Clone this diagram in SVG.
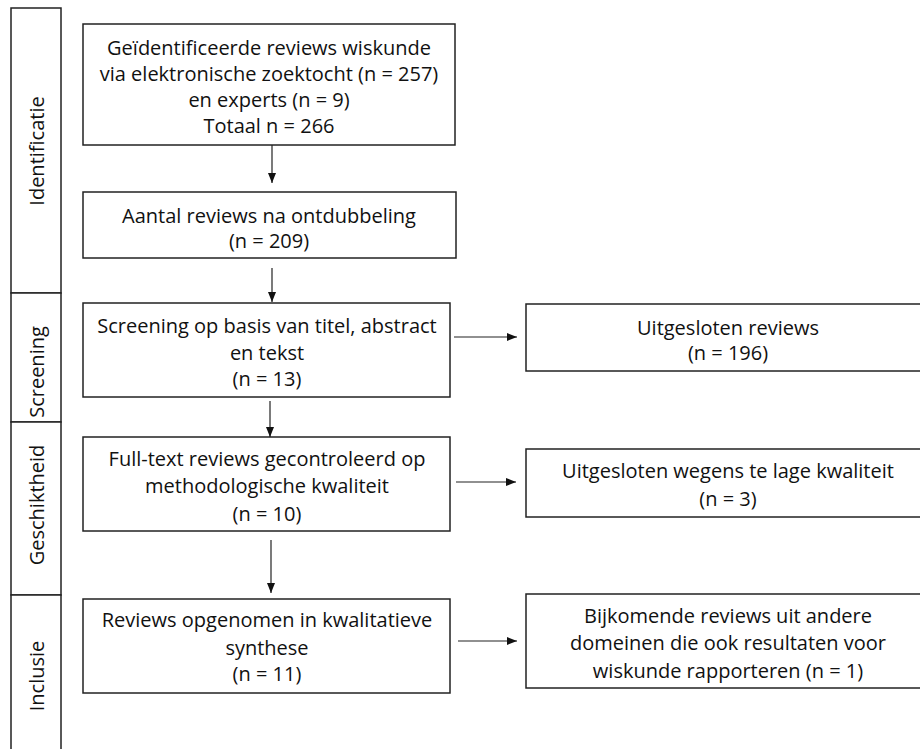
<svg xmlns="http://www.w3.org/2000/svg" width="920" height="749" viewBox="0 0 920 749">
<style>
.box{fill:#fff;stroke:#222;stroke-width:1.5}
.ph{fill:#fff;stroke:#222;stroke-width:1.5}
.t{font-family:"Open Sans","Liberation Sans",sans-serif;font-size:20px;fill:#111;text-anchor:middle;dominant-baseline:central}
.c{stroke:#222;stroke-width:1.2;fill:none;marker-end:url(#ah)}
</style>
<defs>
<marker id="ah" viewBox="0 0 10 10" refX="10" refY="5" markerWidth="10" markerHeight="10" markerUnits="userSpaceOnUse" orient="auto">
<path d="M0,1 L10,5 L0,9 Z" fill="#111"/>
</marker>
</defs>
<rect width="920" height="749" fill="#fff"/>
<g id="phases">
<g id="phase-identificatie"><rect class="ph" x="11" y="8" width="50" height="285"/><text class="t" transform="translate(36,151) rotate(-90)">Identificatie</text></g>
<g id="phase-screening"><rect class="ph" x="11" y="293" width="50" height="129"/><text class="t" transform="translate(36,372) rotate(-90)">Screening</text></g>
<g id="phase-geschiktheid"><rect class="ph" x="11" y="422" width="50" height="173"/><text class="t" transform="translate(36,505) rotate(-90)">Geschiktheid</text></g>
<g id="phase-inclusie"><rect class="ph" x="11" y="595" width="50" height="160"/><text class="t" transform="translate(36,676) rotate(-90)">Inclusie</text></g>
</g>
<g id="n1"><rect class="box" x="83" y="24" width="372" height="121"/>
<text class="t" x="269" y="47">Geïdentificeerde reviews wiskunde</text>
<text class="t" x="269" y="73">via elektronische zoektocht (n = 257)</text>
<text class="t" x="269" y="99">en experts (n = 9)</text>
<text class="t" x="269" y="125">Totaal n = 266</text></g>
<g id="n2"><rect class="box" x="83" y="192" width="373" height="66"/>
<text class="t" x="269" y="215">Aantal reviews na ontdubbeling</text>
<text class="t" x="269" y="240">(n = 209)</text></g>
<g id="n3"><rect class="box" x="83" y="303" width="367" height="94"/>
<text class="t" x="267" y="325">Screening op basis van titel, abstract</text>
<text class="t" x="267" y="352">en tekst</text>
<text class="t" x="267" y="378">(n = 13)</text></g>
<g id="n4"><rect class="box" x="83" y="437" width="367" height="94"/>
<text class="t" x="267" y="458">Full-text reviews gecontroleerd op</text>
<text class="t" x="267" y="485">methodologische kwaliteit</text>
<text class="t" x="267" y="513">(n = 10)</text></g>
<g id="n5"><rect class="box" x="83" y="599" width="367" height="94"/>
<text class="t" x="267" y="619">Reviews opgenomen in kwalitatieve</text>
<text class="t" x="267" y="647">synthese</text>
<text class="t" x="267" y="673">(n = 11)</text></g>
<g id="r1"><rect class="box" x="526" y="304" width="404" height="67"/>
<text class="t" x="728" y="327">Uitgesloten reviews</text>
<text class="t" x="728" y="352">(n = 196)</text></g>
<g id="r2"><rect class="box" x="526" y="449" width="404" height="68"/>
<text class="t" x="728" y="470">Uitgesloten wegens te lage kwaliteit</text>
<text class="t" x="728" y="498">(n = 3)</text></g>
<g id="r3"><rect class="box" x="526" y="594" width="404" height="94"/>
<text class="t" x="728" y="615">Bijkomende reviews uit andere</text>
<text class="t" x="728" y="642">domeinen die ook resultaten voor</text>
<text class="t" x="728" y="670">wiskunde rapporteren (n = 1)</text></g>
<g id="connectors">
<line class="c" x1="272" y1="145" x2="272" y2="183"/>
<line class="c" x1="272" y1="268" x2="272" y2="302"/>
<line class="c" x1="270" y1="401" x2="270" y2="437"/>
<line class="c" x1="271" y1="540" x2="271" y2="593"/>
<line class="c" x1="454" y1="337" x2="517" y2="337"/>
<line class="c" x1="456" y1="482" x2="516" y2="482"/>
<line class="c" x1="458" y1="641" x2="517" y2="641"/>
</g>
</svg>
